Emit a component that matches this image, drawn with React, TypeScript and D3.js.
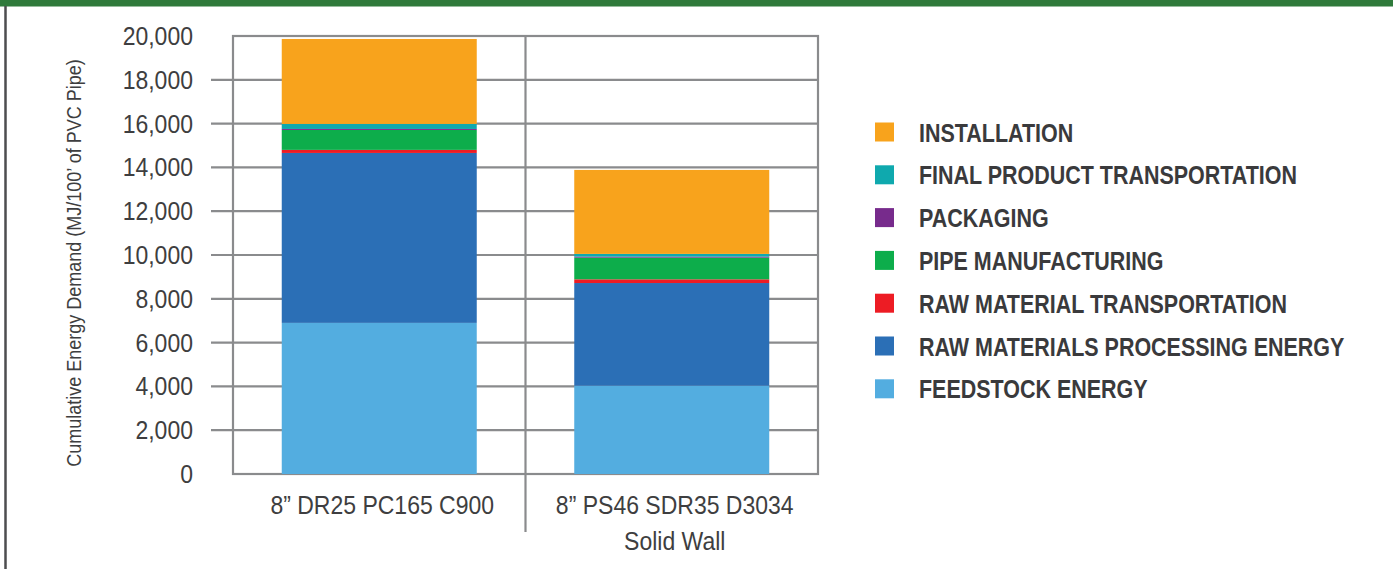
import React from "react";
import * as d3 from "d3";

const categories = ["8\u201D DR25 PC165 C900", "8\u201D PS46 SDR35 D3034|Solid Wall"];
const seriesNames = [
  "FEEDSTOCK ENERGY",
  "RAW MATERIALS PROCESSING ENERGY",
  "RAW MATERIAL TRANSPORTATION",
  "PIPE MANUFACTURING",
  "PACKAGING",
  "FINAL PRODUCT TRANSPORTATION",
  "INSTALLATION",
];
const seriesColors = ["#53ade0", "#2b6fb6", "#ed1c24", "#0dad4b", "#772b8c", "#0fa9ae", "#f8a31c"];
const feedstock = [6900, 4030];
const processing = [7760, 4690];
const rawTransport = [140, 170];
const pipeManufacturing = [910, 990];
const packaging = [45, 45];
const finalTransport = [230, 125];
const installation = [3880, 3835];
const yTicks = [0, 2000, 4000, 6000, 8000, 10000, 12000, 14000, 16000, 18000, 20000];
const yTitle = "Cumulative Energy Demand (MJ/100\u2019 of PVC Pipe)";

const W = 1393;
const H = 569;
const plot = { left: 233, right: 818, top: 36, bottom: 474 };
const textColor = "#3e3e40";
const gridColor = "#8a8b8d";
const font = "'Liberation Sans', Arial, Helvetica, sans-serif";

export default function App() {
  const seriesValues = [feedstock, processing, rawTransport, pipeManufacturing, packaging, finalTransport, installation];
  const rows = categories.map((c, i) => {
    const r: any = { cat: c };
    seriesNames.forEach((s, j) => (r[s] = seriesValues[j][i]));
    return r;
  });
  const stacked = d3.stack<any>().keys(seriesNames)(rows);

  const x = d3.scaleBand<string>().domain(categories).range([plot.left, plot.right]).padding(0);
  const y = d3.scaleLinear().domain([0, 20000]).range([plot.bottom, plot.top]);
  const barW = x.bandwidth() * (2 / 3);
  const fmt = d3.format(",");

  const legendOrder = seriesNames.map((s, i) => ({ s, c: seriesColors[i] })).reverse();
  const legendY = d3.scaleLinear().domain([0, 1]).range([132, 174.8]);

  return (
    <svg
      width={W}
      height={H}
      style={{ position: "absolute", left: 0, top: 0, background: "#fff" }}
      xmlns="http://www.w3.org/2000/svg"
    >
      <rect x={0} y={0} width={W} height={6.5} fill="#2f7a3b" />
      <line x1={5.5} x2={5.5} y1={6} y2={H} stroke="#4d4d4f" strokeWidth={2.5} />

      {/* gridlines */}
      {yTicks.slice(1, -1).map((t) => (
        <line key={"g" + t} x1={plot.left - 22} x2={plot.right} y1={y(t)} y2={y(t)} stroke={gridColor} strokeWidth={2.2} />
      ))}
      <rect
        x={plot.left}
        y={plot.top}
        width={plot.right - plot.left}
        height={plot.bottom - plot.top}
        fill="none"
        stroke={gridColor}
        strokeWidth={2.2}
      />
      <line
        x1={x(categories[1])!}
        x2={x(categories[1])!}
        y1={plot.top}
        y2={532}
        stroke={gridColor}
        strokeWidth={2.2}
      />

      {/* bars */}
      {stacked.map((layer, li) => (
        <g key={layer.key} fill={seriesColors[li]}>
          {layer.map((d, i) => (
            <rect
              key={i}
              x={x(categories[i])! + (x.bandwidth() - barW) / 2}
              y={y(d[1])}
              width={barW}
              height={y(d[0]) - y(d[1])}
            />
          ))}
        </g>
      ))}

      {/* y tick labels */}
      {yTicks.map((t) => (
        <text
          key={"t" + t}
          transform={`translate(193,${y(t) + 9}) scale(0.92,1)`}
          textAnchor="end"
          fontFamily={font}
          fontSize={25}
          fill={textColor}
        >
          {fmt(t)}
        </text>
      ))}

      {/* y title */}
      <text
        transform={`translate(81,263) rotate(-90) scale(0.9,1)`}
        textAnchor="middle"
        fontFamily={font}
        fontSize={20}
        fill={textColor}
      >
        {yTitle}
      </text>

      {/* category labels */}
      {categories.map((c) => (
        <g key={c} transform={`translate(${x(c)! + x.bandwidth() / 2 + 3},514)`}>
          {c.split("|").map((line, k) => (
            <text
              key={k}
              transform={`translate(0,${k * 36}) scale(0.92,1)`}
              textAnchor="middle"
              fontFamily={font}
              fontSize={25}
              fill={textColor}
            >
              {line}
            </text>
          ))}
        </g>
      ))}

      {/* legend */}
      {legendOrder.map((d, i) => (
        <g key={d.s} transform={`translate(0,${legendY(i)})`}>
          <rect x={875} y={-9.5} width={19} height={19} fill={d.c} />
          <text
            transform="translate(919,9.5) scale(0.842,1)"
            fontFamily={font}
            fontWeight="bold"
            fontSize={25.5}
            fill="#3a3a3c"
          >
            {d.s}
          </text>
        </g>
      ))}
    </svg>
  );
}
